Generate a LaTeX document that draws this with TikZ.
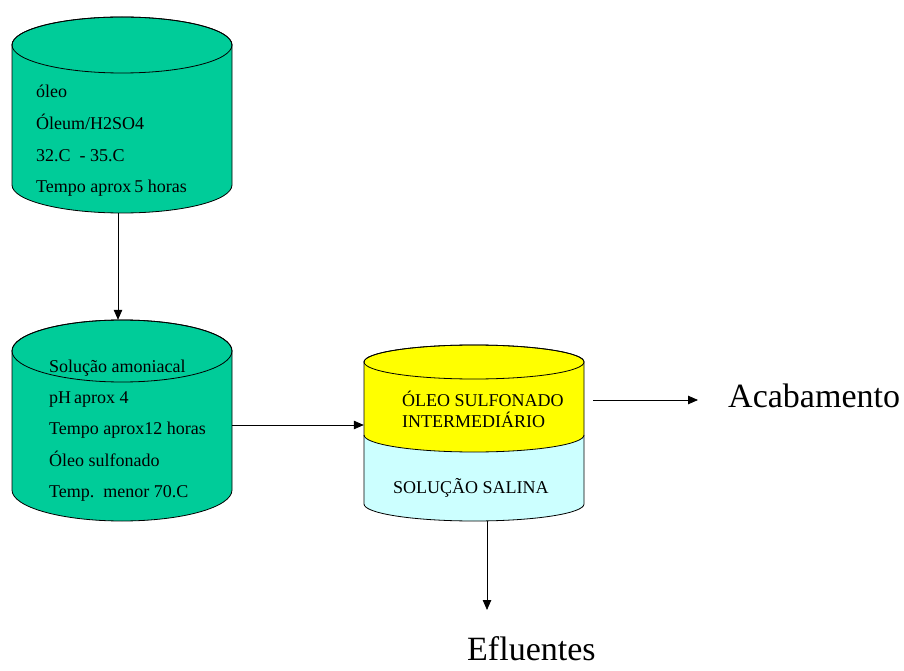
\documentclass[tikz,border=0pt]{standalone}
\usepackage{fontspec}
\setmainfont{Liberation Serif}
\usetikzlibrary{arrows.meta}
\definecolor{tankgreen}{RGB}{0,204,153}
\definecolor{oilyellow}{RGB}{255,255,0}
\definecolor{saltcyan}{RGB}{204,255,255}
\newcommand{\tankbody}[6]{% cx, rx, ytop, ybot, ry, colour
  \filldraw[fill=#6, line width=0.8pt] ({#1-#2},#3) -- ({#1-#2},#4)
    arc[start angle=180, end angle=360, x radius=#2pt, y radius=#5pt]
    -- ({#1+#2},#3)
    arc[start angle=0, end angle=180, x radius=#2pt, y radius=#5pt] -- cycle;
  \draw[line width=0.8pt] (#1,#3) ellipse[x radius=#2pt, y radius=#5pt];
}
\tikzset{
  arr/.style={-{Triangle[length=10pt,width=8.5pt]}, line width=0.8pt},
  lbl/.style={anchor=base west, inner sep=0pt, font=\fontsize{18}{20}\selectfont},
  big/.style={anchor=base west, inner sep=0pt, font=\fontsize{34}{38}\selectfont},
  box/.style={inner sep=0pt, minimum width=220pt}
}
\begin{document}
\begin{tikzpicture}[x=1pt, y=1pt]
\useasboundingbox (0,0) rectangle (904,670);
% tank 1
\tankbody{122}{110}{625}{485}{28}{tankgreen}
\node[box, minimum height=196pt] (c1) at (122,555) {};
\node[lbl] (t1a) at (36,572) {óleo};
\node[lbl] (t1b) at (36,540) {Óleum/H2SO4};
\node[lbl] (t1c) at (36,508) {32.C\ \ - 35.C};
\node[lbl] (t1d) at (36,477) {Tempo aprox\,5 horas};
% tank 2
\tankbody{122}{110}{319}{180}{31}{tankgreen}
\node[box, minimum height=202pt] (c2) at (122,249) {};
\node[lbl] (t2a) at (49,298) {Solução amoniacal};
\node[lbl] (t2b) at (49,267) {pH\,aprox 4};
\node[lbl] (t2c) at (49,236) {Tempo aprox12 horas};
\node[lbl] (t2d) at (49,204) {Óleo sulfonado};
\node[lbl] (t2e) at (49,173) {Temp.\ \ menor 70.C};
% tank 3 (two layers)
\fill[saltcyan] (364,308) -- (364,166)
  arc[start angle=180, end angle=360, x radius=110pt, y radius=17pt]
  -- (584,308) arc[start angle=0, end angle=180, x radius=110pt, y radius=17pt] -- cycle;
\fill[oilyellow] (364,308) -- (364,235)
  arc[start angle=180, end angle=360, x radius=110pt, y radius=17pt]
  -- (584,308) arc[start angle=0, end angle=180, x radius=110pt, y radius=17pt] -- cycle;
\draw[line width=0.8pt] (364,235) arc[start angle=180, end angle=360, x radius=110pt, y radius=17pt];
\draw[line width=0.8pt] (364,308) -- (364,166)
  arc[start angle=180, end angle=360, x radius=110pt, y radius=17pt]
  -- (584,308) arc[start angle=0, end angle=180, x radius=110pt, y radius=17pt] -- cycle;
\draw[line width=0.8pt] (474,308) ellipse[x radius=110pt, y radius=17pt];
\node[box, minimum height=176pt] (c3) at (474,237) {};
\node[lbl] (t3a) at (402,264) {ÓLEO SULFONADO};
\node[lbl] (t3b) at (402,243) {INTERMEDIÁRIO};
\node[lbl] (t3c) at (393,177) {SOLUÇÃO SALINA};
% outputs
\node[big] (acab) at (728,263) {Acabamento};
\node[big] (eflu) at (467,10) {Efluentes};
\coordinate (a3s) at (593,270);
\coordinate (a3e) at (698,270);
\coordinate (a4e) at (487,60);
% connectors
\draw[arr] ([xshift=-4pt]c1.south) -- ([xshift=-4pt]c2.north);
\draw[arr] ([yshift=-4pt]c2.east) -- ([yshift=-4pt]c2.east -| c3.west);
\draw[arr] (a3s) -- (a3e);
\draw[arr] ([xshift=13pt]c3.south) -- (a4e);
\end{tikzpicture}
\end{document}
